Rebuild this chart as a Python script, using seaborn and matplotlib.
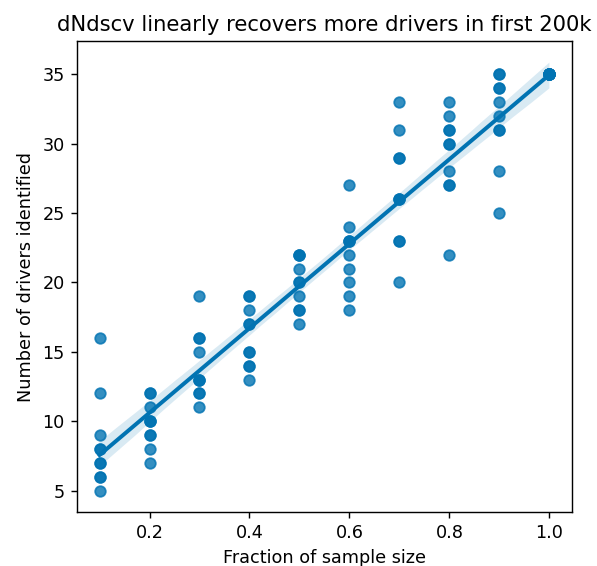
import numpy as np
import pandas as pd
import matplotlib
matplotlib.use("Agg")
import matplotlib.pyplot as plt
import seaborn as sns

fractions = [0.1, 0.2, 0.3, 0.4, 0.5, 0.6, 0.7, 0.8, 0.9, 1.0]
drivers_01 = [16, 12, 9, 8, 8, 7, 7, 6, 6, 5]
drivers_02 = [12, 12, 11, 10, 10, 10, 9, 9, 8, 7]
drivers_03 = [19, 16, 16, 15, 13, 13, 13, 12, 12, 11]
drivers_04 = [19, 19, 18, 17, 17, 15, 15, 14, 14, 13]
drivers_05 = [22, 22, 21, 20, 20, 19, 18, 18, 17, 22]
drivers_06 = [27, 24, 23, 23, 22, 21, 20, 19, 18, 23]
drivers_07 = [33, 31, 29, 29, 26, 26, 23, 23, 20, 26]
drivers_08 = [33, 32, 31, 31, 30, 30, 28, 27, 27, 22]
drivers_09 = [35, 35, 34, 34, 33, 32, 31, 31, 28, 25]
drivers_10 = [35, 35, 35, 35, 35, 35, 35, 35, 35, 35]

all_drivers = [drivers_01, drivers_02, drivers_03, drivers_04, drivers_05,
               drivers_06, drivers_07, drivers_08, drivers_09, drivers_10]

rows = []
for frac, vals in zip(fractions, all_drivers):
    for v in vals:
        rows.append({"fraction": frac, "drivers": v})
df = pd.DataFrame(rows)

# picture looks like a default figure scaled up, so use a higher dpi
fig = plt.figure(figsize=(597 / 127, 566 / 127), dpi=127)
ax = fig.add_axes([0.129, 0.0954, 0.829, 0.832])
sns.regplot(data=df, x="fraction", y="drivers", color="#0173b2", ax=ax)
ax.set_title("dNdscv linearly recovers more drivers in first 200k")
ax.set_xlabel("Fraction of sample size")
ax.set_ylabel("Number of drivers identified")
fig.savefig("out.png", dpi=127)
